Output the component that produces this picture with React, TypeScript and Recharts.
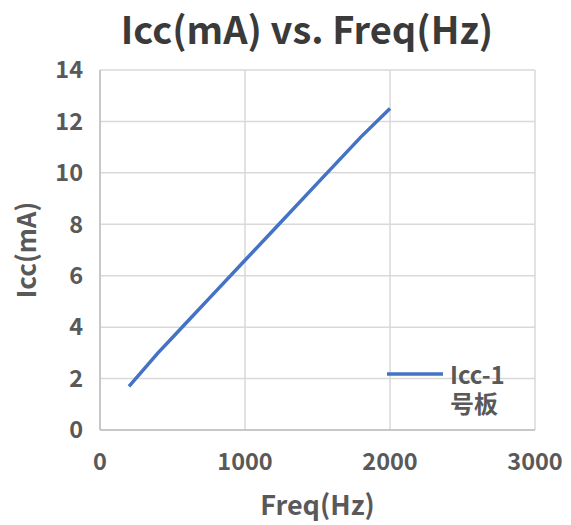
import { LineChart, Line, XAxis, YAxis, CartesianGrid, Label } from 'recharts';

const freq = [200, 300, 400, 500, 600, 800, 1000, 1200, 1500, 1800, 2000];
const icc = [1.7, 2.35, 3.0, 3.6, 4.2, 5.4, 6.6, 7.8, 9.6, 11.4, 12.5];
const xTicks = [0, 1000, 2000, 3000];
const yTicks = [0, 2, 4, 6, 8, 10, 12, 14];
const legendLines = ['Icc-1', '号板'];

const data = freq.map((f, i) => ({ freq: f, icc: icc[i] }));

const FONT = '"Noto Sans CJK SC", "Open Sans", sans-serif';
const TEXT = '#595959';
const BLUE = '#4472C4';

// legend sits inside the plot, bottom right, like the Excel original
const LegendBox = () => (
  <div style={{ position: 'absolute', left: 387, top: 359, width: 130, height: 60 }}>
    <svg width={58} height={30} style={{ position: 'absolute', left: 0, top: 0 }}>
      <line x1={0} y1={15} x2={56} y2={15} stroke={BLUE} strokeWidth={3.5} />
    </svg>
    {legendLines.map((t, i) => (
      <div
        key={t}
        style={{
          position: 'absolute',
          left: 63,
          top: i * 29,
          height: 29,
          lineHeight: '29px',
          fontFamily: FONT,
          fontWeight: 700,
          fontSize: 24,
          color: TEXT,
          whiteSpace: 'nowrap',
        }}
      >
        {t}
      </div>
    ))}
  </div>
);

export default function App() {
  return (
    <div style={{ position: 'absolute', left: 0, top: 0, width: 571, height: 525, background: '#fff', overflow: 'hidden' }}>
      <div
        style={{
          position: 'absolute',
          left: 43,
          top: 0,
          width: 528,
          height: 58,
          textAlign: 'center',
          fontFamily: FONT,
          fontWeight: 700,
          fontSize: 38,
          color: '#3a3a3a',
          lineHeight: '56px',
          whiteSpace: 'nowrap',
        }}
      >
        Icc(mA) vs. Freq(Hz)
      </div>
      <LineChart width={571} height={525} data={data} margin={{ top: 70, right: 36, bottom: 0, left: 0 }}>
        <CartesianGrid stroke="#d9d9d9" strokeWidth={1.5} />
        <XAxis
          dataKey="freq"
          type="number"
          domain={[0, 3000]}
          ticks={xTicks}
          height={95}
          tickLine={false}
          tickSize={0}
          tickMargin={23}
          axisLine={{ stroke: '#bfbfbf', strokeWidth: 1.5 }}
          tick={{ fill: TEXT, fontSize: 23.5, fontWeight: 700, fontFamily: FONT }}
        >
          <Label value="Freq(Hz)" position="insideBottom" offset={10} fill={TEXT} fontSize={27} fontWeight={700} fontFamily={FONT} />
        </XAxis>
        <YAxis
          type="number"
          domain={[0, 14]}
          ticks={yTicks}
          width={100}
          tickLine={false}
          tickSize={0}
          tickMargin={17}
          axisLine={{ stroke: '#bfbfbf', strokeWidth: 1.5 }}
          tick={{ fill: TEXT, fontSize: 23.5, fontWeight: 700, fontFamily: FONT }}
        >
          <Label value="Icc(mA)" angle={-90} position="insideLeft" offset={27} fill={TEXT} fontSize={26} fontWeight={700} fontFamily={FONT} style={{ textAnchor: 'middle' }} />
        </YAxis>
        <Line
          dataKey="icc"
          stroke={BLUE}
          strokeWidth={3.5}
          dot={false}
          type="linear"
          isAnimationActive={false}
        />
      </LineChart>
      <LegendBox />
    </div>
  );
}
